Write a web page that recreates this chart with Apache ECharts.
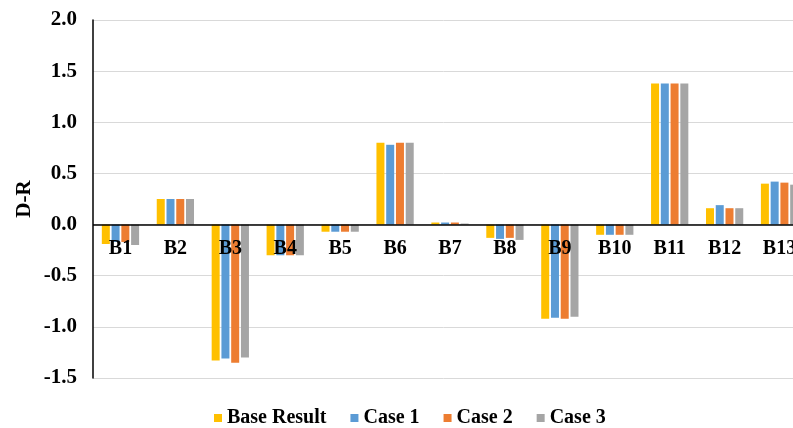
<!DOCTYPE html>
<html>
<head>
<meta charset="utf-8">
<script src="https://cdn.jsdelivr.net/npm/echarts@6/dist/echarts.min.js"></script>
<style>
html,body{margin:0;padding:0;background:#fff;}
#chart{width:793px;height:428px;}
</style>
</head>
<body>
<div id="chart"></div>
<script>
const categories = ['B1','B2','B3','B4','B5','B6','B7','B8','B9','B10','B11','B12','B13'];
const seriesNames = ['Base Result','Case 1','Case 2','Case 3'];
const baseResult = [-0.19, 0.25, -1.33, -0.30, -0.07, 0.80, 0.02, -0.13, -0.92, -0.10, 1.38, 0.16, 0.40];
const case1      = [-0.17, 0.25, -1.31, -0.30, -0.07, 0.78, 0.02, -0.14, -0.91, -0.10, 1.38, 0.19, 0.42];
const case2      = [-0.17, 0.25, -1.35, -0.30, -0.07, 0.80, 0.02, -0.13, -0.92, -0.10, 1.38, 0.16, 0.41];
const case3      = [-0.20, 0.25, -1.30, -0.30, -0.07, 0.80, 0.01, -0.15, -0.90, -0.10, 1.38, 0.16, 0.39];
const colors = ['#FFC000','#5B9BD5','#ED7D31','#A5A5A5'];
const yMin = -1.5, yMax = 2.0, yStep = 0.5;

const font = '"Liberation Serif","Times New Roman",serif';
const gridTop = 20, gridBottom = 50, chartH = 428;
const plotH = chartH - gridTop - gridBottom;
// move the category axis labels up to the zero line of the value axis
const zeroOffset = -plotH * (0 - yMin) / (yMax - yMin);

const chart = echarts.init(document.getElementById('chart'), null, {renderer:'canvas'});
const dataSets = [baseResult, case1, case2, case3];
chart.setOption({
  animation: false,
  backgroundColor: '#fff',
  color: colors,
  grid: {left: 93, top: gridTop, bottom: gridBottom, right: -14, containLabel: false, outerBoundsMode: 'none'},
  legend: {
    data: seriesNames,
    left: 214,
    bottom: 0,
    padding: 0,
    itemWidth: 8,
    itemHeight: 8,
    itemGap: 24,
    icon: 'rect',
    textStyle: {fontFamily: font, fontWeight: 'bold', fontSize: 20, color: '#000'}
  },
  xAxis: {
    type: 'category',
    data: categories,
    z: 3,
    offset: zeroOffset,
    axisLine: {show: false, onZero: false},
    axisTick: {show: false},
    axisLabel: {fontFamily: font, fontWeight: 'bold', fontSize: 20, color: '#000', margin: 14, interval: 0}
  },
  yAxis: {
    type: 'value',
    min: yMin, max: yMax, interval: yStep,
    name: 'D-R',
    nameLocation: 'middle',
    nameGap: 58,
    nameMoveOverlap: false,
    nameTextStyle: {fontFamily: font, fontWeight: 'bold', fontSize: 21, color: '#000'},
    axisLine: {show: true, lineStyle: {color: '#000', width: 1.5}},
    axisTick: {show: false},
    axisLabel: {fontFamily: font, fontWeight: 'bold', fontSize: 21, color: '#000', margin: 16,
      formatter: v => v.toFixed(1)},
    splitLine: {lineStyle: {color: '#d9d9d9', width: 1}}
  },
  series: seriesNames.map((n, i) => {
    const s = {
      name: n,
      type: 'bar',
      data: dataSets[i],
      barWidth: 8,
      barGap: '22%',
      itemStyle: {color: colors[i]}
    };
    if (i === 0) {
      s.markLine = {
        silent: true,
        symbol: ['none', 'none'],
        label: {show: false},
        lineStyle: {color: '#000', width: 1.6, type: 'solid'},
        data: [{yAxis: 0}]
      };
    }
    return s;
  })
});
</script>
</body>
</html>
